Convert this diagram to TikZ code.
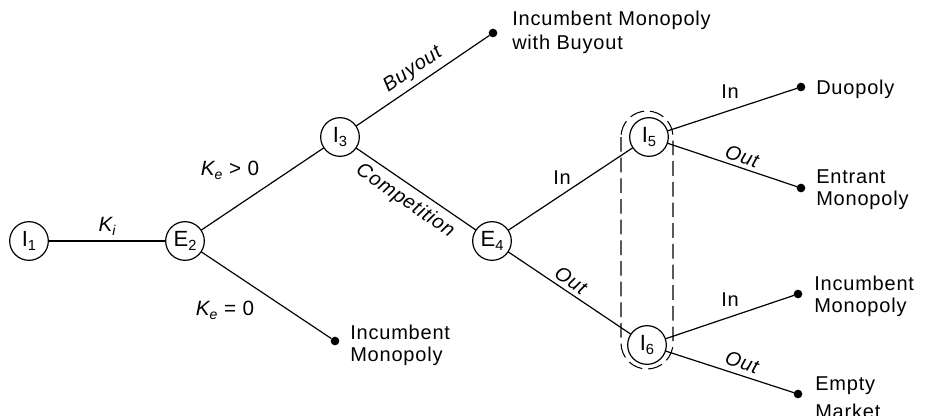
\documentclass[tikz,border=0pt]{standalone}
\usepackage{fontspec}
\setmainfont{Liberation Sans}[LetterSpace=4]
\newcommand\sbs[2][11]{\raisebox{-3pt}{\fontsize{#1}{#1}\selectfont #2}}
\begin{document}
\begin{tikzpicture}[x=0.75pt,y=-0.75pt,
  dnode/.style={circle,draw,line width=0.9pt,minimum size=29pt,inner sep=0pt,outer sep=0pt,font=\fontsize{16.5}{16.5}\selectfont},
  leaf/.style={circle,fill,inner sep=0pt,minimum size=6.5pt,outer sep=0pt},
  edgeline/.style={line width=0.9pt},
  outtext/.style={align=left,anchor=north west,inner sep=0pt,font=\fontsize{15}{16.5}\selectfont},
  lab/.style={inner sep=0pt,font=\fontsize{15}{15}\selectfont},
  klab/.style={inner sep=0pt,font=\fontsize{15.5}{15.5}\selectfont},
  slab/.style={inner sep=0pt,font=\fontsize{15}{15}\selectfont\itshape},
  infoset/.style={dash pattern=on 11pt off 4.5pt,line width=0.8pt,black}]
\useasboundingbox (0,0) rectangle (925,415);
% decision nodes
\node[dnode] (I1) at (29,241) {I\sbs{1}};
\node[dnode] (E2) at (185,241) {E\sbs{2}};
\node[dnode] (I3) at (340,137) {I\sbs{3}};
\node[dnode] (E4) at (492,241) {E\sbs{4}};
\node[dnode] (I5) at (649,137) {I\sbs{5}};
\node[dnode] (I6) at (647,345) {I\sbs{6}};
% terminal nodes
\node[leaf] (L1) at (493,33) {};
\node[leaf] (L2) at (335,341) {};
\node[leaf] (L3) at (801,87) {};
\node[leaf] (L4) at (801,188) {};
\node[leaf] (L5) at (798,294) {};
\node[leaf] (L6) at (798,394) {};
% outcome texts
\node[outtext] (T1) at (512,11) {Incumbent Monopoly\\[1.5pt]with Buyout};
\node[outtext] (T2) at (816,80) {Duopoly};
\node[outtext] (T3) at (816,169) {Entrant\\Monopoly};
\node[outtext] (T4) at (814,276) {Incumbent\\Monopoly};
\node[outtext] (T5) at (815,376) {Empty\\[4.5pt]Market};
\node[outtext] (T6) at (350,325) {Incumbent\\Monopoly};
% edges
\draw[edgeline] (I1) -- (E2);
\draw[edgeline] (E2) -- (I3);
\draw[edgeline] (E2) -- (L2);
\draw[edgeline] (I3) -- (L1);
\draw[edgeline] (I3) -- (E4);
\draw[edgeline] (E4) -- (I5);
\draw[edgeline] (E4) -- (I6);
\draw[edgeline] (I5) -- (L3);
\draw[edgeline] (I5) -- (L4);
\draw[edgeline] (I6) -- (L5);
\draw[edgeline] (I6) -- (L6);
% edge labels
\node[klab] (lKi) at (107,226) {{\itshape K}\sbs[10.5]{\itshape i}};
\node[klab] (lKe1) at (230,170) {{\itshape K}\sbs[10.5]{\itshape e}\hspace{5pt}>\hspace{5pt}0};
\node[klab] (lKe0) at (225,310) {{\itshape K}\sbs[10.5]{\itshape e}\hspace{5pt}=\hspace{5pt}0};
\node[slab,rotate=34.2] (lBuy) at (413,70) {Buyout};
\node[slab,rotate=-34.4] (lComp) at (405,201) {Competition};
\node[lab] (lIn4) at (562,178) {In};
\node[slab,rotate=-33.9] (lOut4) at (571,280) {Out};
\node[lab] (lIn5) at (730,92) {In};
\node[slab,rotate=-18.7] (lOut5) at (742,156) {Out};
\node[lab] (lIn6) at (730,300) {In};
\node[slab,rotate=-18] (lOut6) at (742,362) {Out};
% information set
\draw[infoset, rounded corners=19.5pt] (621,111) rectangle (673,369);
\end{tikzpicture}
\end{document}
